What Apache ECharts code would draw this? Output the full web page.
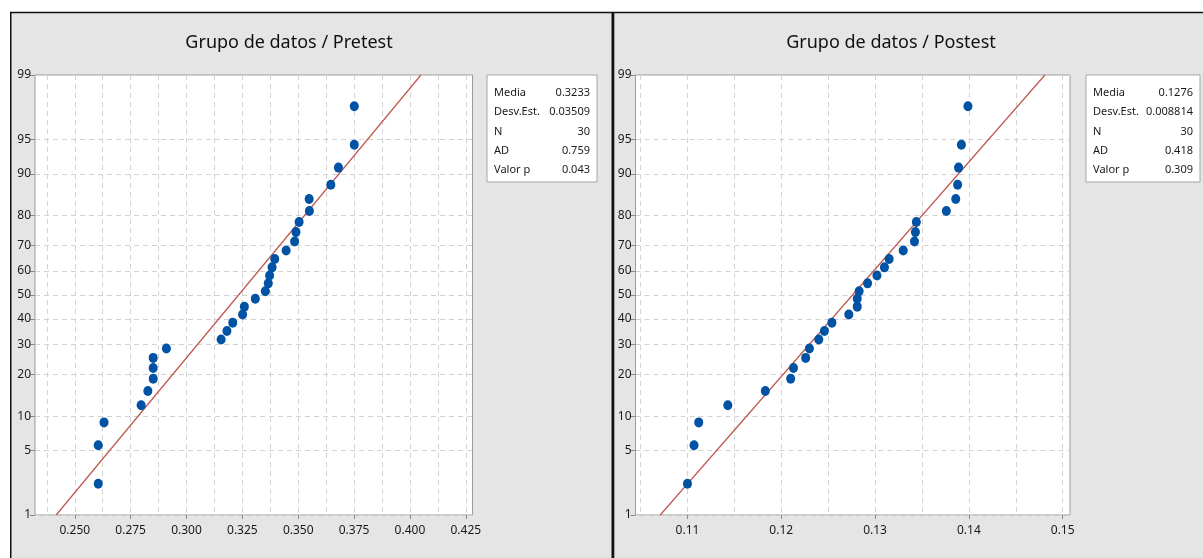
<!DOCTYPE html>
<html>
<head>
<meta charset="utf-8">
<title>Grupo de datos</title>
<script src="https://cdn.jsdelivr.net/npm/echarts@6/dist/echarts.min.js"></script>
<style>
  html, body { margin: 0; padding: 0; background: #fff; }
  #main { width: 1203px; height: 558px; }
</style>
</head>
<body>
<div id="main"></div>
<script>
// probability axis (percent)
var yTicks = [1, 5, 10, 20, 30, 40, 50, 60, 70, 80, 90, 95, 99];

// percent position of each ranked point
var percents = [2.3, 5.6, 8.9, 12.2, 15.5, 18.8, 22.0, 25.3, 28.6, 31.9,
                35.2, 38.5, 41.8, 45.1, 48.4, 51.6, 54.9, 58.2, 61.5, 64.8,
                68.1, 71.4, 74.7, 78.0, 81.3, 84.5, 87.8, 91.1, 94.4, 97.7];

var pretest = [0.2605, 0.2605, 0.2631, 0.2797, 0.2827, 0.2851, 0.2851, 0.2851, 0.2910, 0.3155,
               0.3181, 0.3207, 0.3251, 0.3259, 0.3308, 0.3353, 0.3366, 0.3372, 0.3383, 0.3395,
               0.3446, 0.3484, 0.3490, 0.3504, 0.3550, 0.3549, 0.3646, 0.3680, 0.3751, 0.3751];

var postest = [0.1100, 0.1107, 0.1112, 0.1143, 0.1183, 0.1210, 0.1213, 0.1226, 0.1230, 0.1240,
               0.1246, 0.1254, 0.1272, 0.1281, 0.1281, 0.1283, 0.1292, 0.1302, 0.1310, 0.1315,
               0.1330, 0.1342, 0.1343, 0.1344, 0.1376, 0.1386, 0.1388, 0.1389, 0.1392, 0.1399];

var statNames = ['Media', 'Desv.Est.', 'N', 'AD', 'Valor p'];
var preStats = ['0.3233', '0.03509', '30', '0.759', '0.043'];
var postStats = ['0.1276', '0.008814', '30', '0.418', '0.309'];

// x ticks
var preLabels = [0.250, 0.275, 0.300, 0.325, 0.350, 0.375, 0.400, 0.425];
var preGrid = [0.2375, 0.25, 0.2625, 0.275, 0.2875, 0.3, 0.3125, 0.325, 0.3375,
               0.35, 0.3625, 0.375, 0.3875, 0.4, 0.4125, 0.425];
var postLabels = [0.11, 0.12, 0.13, 0.14, 0.15];
var postGrid = [0.105, 0.11, 0.115, 0.12, 0.125, 0.13, 0.135, 0.14, 0.145, 0.15];

// inverse normal cdf (Acklam), used to place percents on the probability scale
function probit(p) {
  var a = [-39.69683028665376, 220.9460984245205, -275.9285104469687, 138.3577518672690, -30.66479806614716, 2.506628277459239];
  var b = [-54.47609879822406, 161.5858368580409, -155.6989798598866, 66.80131188771972, -13.28068155288572];
  var c = [-0.007784894002430293, -0.3223964580411365, -2.400758277161838, -2.549732539343734, 4.374664141464968, 2.938163982698783];
  var d = [0.007784695709041462, 0.3224671290700398, 2.445134137142996, 3.754408661907416];
  var q, r;
  if (p < 0.02425) {
    q = Math.sqrt(-2 * Math.log(p));
    return (((((c[0]*q+c[1])*q+c[2])*q+c[3])*q+c[4])*q+c[5]) / ((((d[0]*q+d[1])*q+d[2])*q+d[3])*q+1);
  }
  if (p > 1 - 0.02425) {
    q = Math.sqrt(-2 * Math.log(1 - p));
    return -(((((c[0]*q+c[1])*q+c[2])*q+c[3])*q+c[4])*q+c[5]) / ((((d[0]*q+d[1])*q+d[2])*q+d[3])*q+1);
  }
  q = p - 0.5;
  r = q * q;
  return (((((a[0]*r+a[1])*r+a[2])*r+a[3])*r+a[4])*r+a[5])*q / (((((b[0]*r+b[1])*r+b[2])*r+b[3])*r+b[4])*r+1);
}

var zTicks = yTicks.map(function (p) { return probit(p / 100); });
var zMin = zTicks[0], zMax = zTicks[zTicks.length - 1];

function yLabel(v) {
  var best = 0;
  for (var i = 1; i < zTicks.length; i++) {
    if (Math.abs(zTicks[i] - v) < Math.abs(zTicks[best] - v)) best = i;
  }
  return String(yTicks[best]);
}

var font = '"Noto Sans", "Open Sans", sans-serif';
var gridDash = { color: '#d2d2d2', type: [5, 4], width: 1 };

function points(xs) {
  return xs.map(function (x, i) { return [x, probit(percents[i] / 100)]; });
}
function fitLine(stats) {
  var m = parseFloat(stats[0]), s = parseFloat(stats[1]);
  return [[m + s * zMin, zMin], [m + s * zMax, zMax]];
}

function makeX(gi, min, max, grid, labels, digits) {
  return [{
    gridIndex: gi, type: 'value', min: min, max: max,
    axisLine: { show: false },
    axisTick: { show: false, customValues: grid },
    splitLine: { show: true, lineStyle: gridDash },
    axisLabel: {
      customValues: labels, margin: 10, color: '#1a1a1a', fontSize: 12, fontFamily: font,
      formatter: function (v) { return v.toFixed(digits); }
    }
  }, {
    gridIndex: gi, type: 'value', min: min, max: max, position: 'bottom',
    axisLine: { show: false },
    axisTick: { show: true, length: 4, customValues: labels, lineStyle: { color: '#8a8a8a' } },
    axisLabel: { show: false },
    splitLine: { show: false }
  }];
}

function makeY(gi) {
  return {
    gridIndex: gi, type: 'value', min: zMin, max: zMax,
    axisLine: { show: false },
    axisTick: { show: true, length: 5, customValues: zTicks, lineStyle: { color: '#8a8a8a' } },
    splitLine: { show: true, lineStyle: gridDash },
    axisLabel: { customValues: zTicks, margin: 4, color: '#1a1a1a', fontSize: 12, fontFamily: font, formatter: yLabel }
  };
}

function statBox(x, w, values) {
  var els = [{
    type: 'rect', shape: { x: x, y: 75, width: w, height: 107 },
    style: { fill: '#fff', stroke: '#a6a6a6', lineWidth: 1 }
  }];
  statNames.forEach(function (n, i) {
    var y = 93 + i * 19.2;
    els.push({ type: 'text', x: x + 7, y: y,
      style: { text: n, fill: '#1a1a1a', font: '11px ' + font, textAlign: 'left', textVerticalAlign: 'middle' } });
    els.push({ type: 'text', x: x + w - 7, y: y,
      style: { text: values[i], fill: '#1a1a1a', font: '11px ' + font, textAlign: 'right', textVerticalAlign: 'middle' } });
  });
  return els;
}

var chart = echarts.init(document.getElementById('main'));

var graphics = [
  { type: 'rect', shape: { x: 0, y: 0, width: 1203, height: 12 }, style: { fill: '#fff' } },
  { type: 'rect', shape: { x: 0, y: 0, width: 10, height: 558 }, style: { fill: '#fff' } },
  { type: 'line', shape: { x1: 10, y1: 12.5, x2: 1203, y2: 12.5 }, style: { stroke: '#111', lineWidth: 1.5 } },
  { type: 'line', shape: { x1: 10.75, y1: 12, x2: 10.75, y2: 558 }, style: { stroke: '#111', lineWidth: 1.5 } },
  { type: 'rect', shape: { x: 611.5, y: 12, width: 2.8, height: 546 }, style: { fill: '#111' } },
  { type: 'text', x: 289, y: 43, style: { text: 'Grupo de datos / Pretest', fill: '#111', font: '18px ' + font, textAlign: 'center', textVerticalAlign: 'middle' } },
  { type: 'text', x: 891, y: 43, style: { text: 'Grupo de datos / Postest', fill: '#111', font: '18px ' + font, textAlign: 'center', textVerticalAlign: 'middle' } }
].concat(statBox(487, 110, preStats), statBox(1086, 114, postStats));

chart.setOption({
  backgroundColor: '#e5e5e5',
  animation: false,
  graphic: graphics,
  grid: [
    { left: 35, top: 75, width: 437.5, height: 440, show: true, backgroundColor: '#fff', borderColor: '#9c9c9c', borderWidth: 1 },
    { left: 635.5, top: 75, width: 434.5, height: 440, show: true, backgroundColor: '#fff', borderColor: '#9c9c9c', borderWidth: 1 }
  ],
  xAxis: makeX(0, 0.2322, 0.4280, preGrid, preLabels, 3).concat(makeX(1, 0.10446, 0.15078, postGrid, postLabels, 2)),
  yAxis: [makeY(0), makeY(1)],
  series: [
    { type: 'line', xAxisIndex: 0, yAxisIndex: 0, data: fitLine(preStats), symbol: 'none',
      lineStyle: { color: '#c0564d', width: 1.2 }, z: 2 },
    { type: 'scatter', xAxisIndex: 0, yAxisIndex: 0, data: points(pretest), symbol: 'circle',
      symbolSize: [9, 10], itemStyle: { color: '#0052a5', opacity: 1 }, z: 3 },
    { type: 'line', xAxisIndex: 2, yAxisIndex: 1, data: fitLine(postStats), symbol: 'none',
      lineStyle: { color: '#c0564d', width: 1.2 }, z: 2 },
    { type: 'scatter', xAxisIndex: 2, yAxisIndex: 1, data: points(postest), symbol: 'circle',
      symbolSize: [9, 10], itemStyle: { color: '#0052a5', opacity: 1 }, z: 3 }
  ]
});
</script>
</body>
</html>
